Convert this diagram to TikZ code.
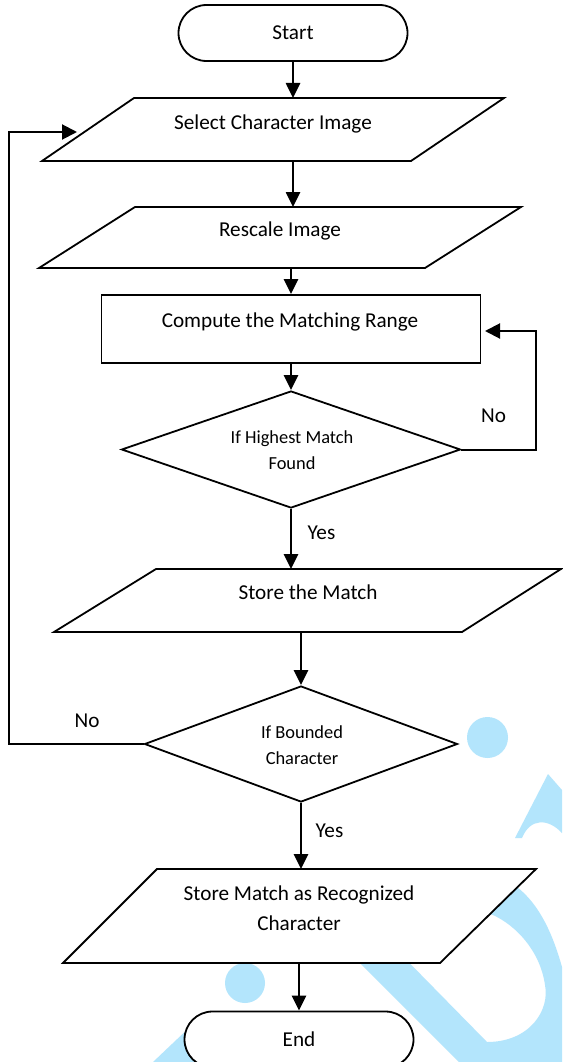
\documentclass[tikz,border=0pt]{standalone}
\usepackage{fontspec}
\setmainfont{Carlito}
\usetikzlibrary{shapes.geometric,shapes.misc,arrows.meta,calc}
\definecolor{wmblue}{RGB}{179,229,252}
\newcommand\mainsize{\fontsize{21.2}{30}\selectfont}
\newcommand\smallsize{\fontsize{18.4}{26}\selectfont}
\tikzset{
  outline/.style={draw=black, line width=1.8pt, fill=white},
  term/.style={outline, rounded rectangle, minimum width=229pt, minimum height=56pt, inner sep=0pt, font=\mainsize},
  procbox/.style={outline, rectangle, minimum width=379pt, minimum height=68pt, inner sep=0pt},
  decision/.style={outline, diamond, inner sep=0pt},
  para/.style={outline, line join=miter},
  txt/.style={inner sep=0pt, font=\mainsize, anchor=base},
  dtxt/.style={inner sep=0pt, font=\smallsize, align=center},
  ptxt/.style={inner sep=0pt, font=\mainsize, align=center},
  flow/.style={line width=2.6pt, -{Triangle[length=15pt,width=14pt]}},
  backflow/.style={line width=2pt, -{Triangle[length=15pt,width=15pt]}},
  lbl/.style={inner sep=0pt, font=\mainsize, anchor=base},
}
\begin{document}
\begin{tikzpicture}[x=1pt,y=-1pt]
\useasboundingbox (0,0) rectangle (562,1062);
\fill[white] (0,0) rectangle (562,1062);

% light blue mark in the background
\begin{scope}[fill=wmblue]
  \fill (487.5,737.5) circle [radius=20.5pt];
  \fill (245,983) circle [radius=20pt];
  \fill[even odd rule]
    (332,935) -- (459,1062) -- (562,1062) -- (562,967)
      .. controls (553,935) and (540,905) .. (517,887) -- (470,880) -- cycle
    (382,935) -- (487,1042) .. controls (530,1042) and (550,1010) .. (545,985)
      .. controls (540,950) and (515,925) .. (493,915) -- (450,905) -- cycle;
  \fill (515,838) -- (548,774) -- (562,790) -- (562,833)
      .. controls (548,818) and (530,818) .. (522,838) -- cycle;
  \fill (153,1062) -- (192,1025) -- (225,1062) -- cycle;
\end{scope}

% terminators
\node[term] (start) at (293,33) {Start};
\node[term] (end) at (299,1039.5) {End};

% Select Character Image
\path (134,98) coordinate (sel-tl) (504,98) coordinate (sel-tr)
      (411,161) coordinate (sel-br) (42,161) coordinate (sel-bl);
\draw[para] (sel-tl) -- (sel-tr) -- (sel-br) -- (sel-bl) -- cycle;
\node[txt] (sel) at (273,129.4) {Select Character Image};

% Rescale Image
\path (135,207) coordinate (res-tl) (521,207) coordinate (res-tr)
      (425,268) coordinate (res-br) (39,268) coordinate (res-bl);
\draw[para] (res-tl) -- (res-tr) -- (res-br) -- (res-bl) -- cycle;
\node[txt] (res) at (280,236.4) {Rescale Image};

% Compute the Matching Range
\node[procbox] (comp) at (291,329) {};
\node[txt] (comp-t) at (290,327.4) {Compute the Matching Range};

% If Highest Match Found
\node[decision, minimum width=339pt, minimum height=117pt] (hm) at (291,449.5) {};
\node[dtxt] (hm-t) at (292,450) {If Highest Match\\Found};

% Store the Match
\path (156,569) coordinate (store-tl) (561,569) coordinate (store-tr)
      (462,632) coordinate (store-br) (54,632) coordinate (store-bl);
\draw[para] (store-tl) -- (store-tr) -- (store-br) -- (store-bl) -- cycle;
\node[txt] (store) at (308,599.4) {Store the Match};

% If Bounded Character
\node[decision, minimum width=313pt, minimum height=116pt] (bd) at (301,744) {};
\node[dtxt] (bd-t) at (302,745) {If Bounded\\Character};

% Store Match as Recognized Character
\path (157,869) coordinate (rec-tl) (536,869) coordinate (rec-tr)
      (440,963) coordinate (rec-br) (63,963) coordinate (rec-bl);
\draw[para] (rec-tl) -- (rec-tr) -- (rec-br) -- (rec-bl) -- cycle;
\node[ptxt] (rec) at (299,908) {Store Match as Recognized\\Character};

% main flow
\draw[flow] (start.south) -- (start.south |- sel-tl);
\draw[flow] (start.south |- sel-bl) -- (start.south |- res-tl);
\draw[flow] (comp.north |- res-bl) -- (comp.north);
\draw[flow] (comp.south) -- (hm.north);
\draw[flow] (hm.south) -- (hm.south |- store-tl);
\draw[flow] (bd.north |- store-bl) -- (bd.north);
\draw[flow] (bd.south) -- (bd.south |- rec-tl);
\draw[flow] (end.north |- rec-bl) -- (end.north);

% loops back
\coordinate (fbR) at (536,331);
\coordinate (fbR-in) at (485,331);
\draw[backflow] (hm.east) -| (fbR) -- (fbR-in);
\coordinate (fbL) at (9,132);
\coordinate (fbL-in) at (77,132);
\draw[backflow] (bd.west) -| (fbL) -- (fbL-in);

% branch labels
\node[lbl] (no1) at (493.5,422.4) {No};
\node[lbl] (yes1) at (321.5,539.4) {Yes};
\node[lbl] (no2) at (87,727.4) {No};
\node[lbl] (yes2) at (329.5,837.4) {Yes};
\end{tikzpicture}
\end{document}
